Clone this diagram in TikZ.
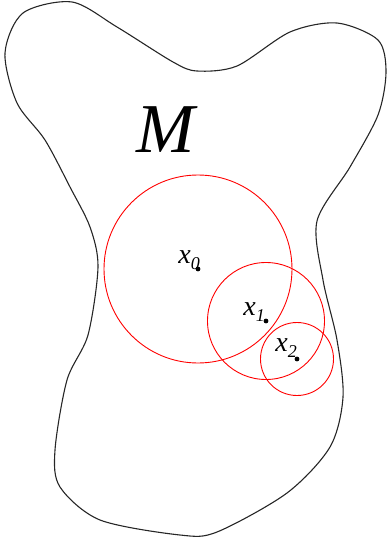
\documentclass[tikz,border=0pt]{standalone}
\usepackage{fontspec}
\setmainfont{Liberation Serif}
\usepackage{tikz}
\usetikzlibrary{positioning}

\newcommand{\ptlabel}[2]{\textit{#1}\raisebox{-6pt}{\fontsize{18}{18}\selectfont\textit{#2}}}

\begin{document}
\begin{tikzpicture}[x=1pt, y=-1pt,
    outline/.style={draw=black!85, line width=1.1pt, line join=round},
    ball/.style={draw=red, line width=0.9pt},
    pt/.style={circle, fill=black, inner sep=0pt, minimum size=4.8pt},
    lbl/.style={inner sep=0pt, font=\fontsize{28}{28}\selectfont}]
    \useasboundingbox (0,0) rectangle (388,540);

    % the manifold
    \draw[outline] plot[smooth cycle, tension=0.5] coordinates {
      (72,2) (117,27) (173,62) (197,71) (237,66) (290,32) (337,23) (378,40)
      (386,72) (378,115) (350,167) (317,221) (323,280) (337,340) (343,397)
      (330,447) (287,493) (217,532) (180,535) (100,520) (60,487) (55,450)
      (67,380) (88,335) (98,267) (90,227) (70,187) (45,140) (17,103) (5,53)
      (23,13)};
    \node[inner sep=0pt, anchor=base, font=\fontsize{70}{70}\selectfont\itshape] (M) at (166,153) {M};

    % centres and balls
    \node[pt] (x0) at (198,269) {};
    \node[pt] (x1) at (266,321) {};
    \node[pt] (x2) at (297,359) {};

    \draw[ball] (x0.center) circle[radius=94pt];
    \draw[ball] (x1.center) circle[radius=58.5pt];
    \draw[ball] (x2.center) circle[radius=36.5pt];

    \node[lbl, anchor=base east] (l0) at ([shift={(2,-6)}]x0.center) {\ptlabel{x}{0}};
    \node[lbl, anchor=base east] (l1) at ([shift={(-1,-6)}]x1.center) {\ptlabel{x}{1}};
    \node[lbl, anchor=base east] (l2) at ([shift={(0,-8)}]x2.center) {\ptlabel{x}{2}};
\end{tikzpicture}
\end{document}
